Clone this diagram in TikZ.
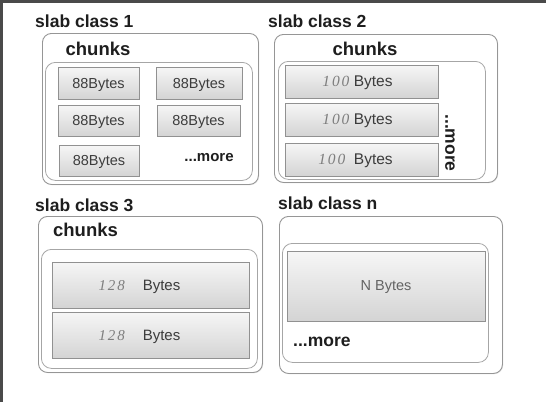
\documentclass[tikz,border=0pt]{standalone}
\usepackage{fontspec}
\setmainfont{Liberation Sans}
\newfontfamily\numfont[LetterSpace=12]{Liberation Serif}
\usetikzlibrary{shadows}
\definecolor{framegray}{RGB}{74,74,74}
\definecolor{boxline}{RGB}{150,150,150}
\definecolor{chunkline}{RGB}{145,145,145}
\definecolor{chunktop}{RGB}{246,246,246}
\definecolor{chunkbot}{RGB}{212,212,212}
\definecolor{labeltext}{RGB}{30,30,30}
\definecolor{sizetext}{RGB}{60,60,60}
\definecolor{numtext}{RGB}{125,125,125}

\newcommand{\chunknum}[1]{{\numfont\itshape\color{numtext}#1}}

\begin{document}
\begin{tikzpicture}[x=1pt, y=-1pt,
  slab/.style={draw=boxline, line width=0.9pt, rounded corners=9pt, fill=white,
    anchor=north west, inner sep=0pt,
    drop shadow={shadow xshift=0.8pt, shadow yshift=-0.8pt, opacity=0.15}},
  pool/.style={draw=boxline!85, line width=0.8pt, rounded corners=10pt, fill=white,
    anchor=north west, inner sep=0pt},
  chunk/.style={draw=chunkline, line width=0.7pt, top color=chunktop, bottom color=chunkbot,
    inner sep=0pt, text depth=0pt, text=sizetext, font=\fontsize{14.5}{16}\selectfont},
  title/.style={anchor=west, inner sep=0pt, text=labeltext, font=\fontsize{17.5}{20}\selectfont\bfseries},
  morelabel/.style={inner sep=0pt, text=labeltext, font=\fontsize{17.5}{20}\selectfont\bfseries}]
  \useasboundingbox (0,0) rectangle (546,402);

  % frame edges
  \fill[framegray] (0,0) rectangle (3,402);
  \fill[framegray] (0,0) rectangle (546,3);

  % slab class 1
  \node[title] (title1) at (35,21) {slab class 1};
  \node[slab, minimum width=216, minimum height=151] (slab1) at (42,33) {};
  \node[title, anchor=center, font=\fontsize{18.5}{20}\selectfont\bfseries] (chunks1) at (98,49) {chunks};
  \node[pool, minimum width=207, minimum height=118] (pool1) at (45,62) {};
  \node[chunk, minimum width=81, minimum height=32] (c11) at (98.5,83) {88Bytes};
  \node[chunk, minimum width=86, minimum height=32] (c12) at (199,83) {88Bytes};
  \node[chunk, minimum width=81, minimum height=31] (c13) at (98.5,120.5) {88Bytes};
  \node[chunk, minimum width=83, minimum height=31] (c14) at (198.5,120.5) {88Bytes};
  \node[chunk, minimum width=80, minimum height=31] (c15) at (99,160.5) {88Bytes};
  \node[morelabel, font=\fontsize{15}{18}\selectfont\bfseries] (more1) at (209,158) {...more};

  % slab class 2
  \node[title] (title2) at (268,21) {slab class 2};
  \node[slab, minimum width=223, minimum height=148] (slab2) at (274,34) {};
  \node[title, anchor=center, font=\fontsize{18.5}{20}\selectfont\bfseries] (chunks2) at (365,49) {chunks};
  \node[pool, minimum width=207, minimum height=118] (pool2) at (278,61) {};
  \node[chunk, minimum width=153, minimum height=33, font=\fontsize{15.5}{17}\selectfont] (c21) at (361.5,81.5) {\chunknum{100} Bytes\kern8pt};
  \node[chunk, minimum width=153, minimum height=33, font=\fontsize{15.5}{17}\selectfont] (c22) at (361.5,119.5) {\chunknum{100} Bytes\kern8pt};
  \node[chunk, minimum width=153, minimum height=33, font=\fontsize{15.5}{17}\selectfont] (c23) at (361.5,159.5) {\chunknum{100}\ \ Bytes\kern12pt};
  \node[morelabel, rotate=-90] (more2) at (450,143) {...more};

  % slab class 3
  \node[title] (title3) at (35,205) {slab class 3};
  \node[slab, minimum width=224, minimum height=156] (slab3) at (38,216) {};
  \node[title, anchor=center, font=\fontsize{18.5}{20}\selectfont\bfseries] (chunks3) at (85.5,230) {chunks};
  \node[pool, minimum width=216, minimum height=119] (pool3) at (41,249) {};
  \node[chunk, minimum width=197, minimum height=46, font=\fontsize{15}{17}\selectfont] (c31) at (150.5,285) {\chunknum{128}\hspace{18pt}Bytes\kern22pt};
  \node[chunk, minimum width=197, minimum height=46, font=\fontsize{15}{17}\selectfont] (c32) at (150.5,335) {\chunknum{128}\hspace{18pt}Bytes\kern22pt};

  % slab class n
  \node[title] (titlen) at (278,203) {slab class n};
  \node[slab, minimum width=223, minimum height=157] (slabn) at (279,216) {};
  \node[pool, minimum width=206, minimum height=119] (pooln) at (282,243) {};
  \node[chunk, minimum width=198, minimum height=70, text=sizetext!80] (cn1) at (386,286) {N Bytes};
  \node[morelabel, anchor=west] (moren) at (293,342) {...more};
\end{tikzpicture}
\end{document}
